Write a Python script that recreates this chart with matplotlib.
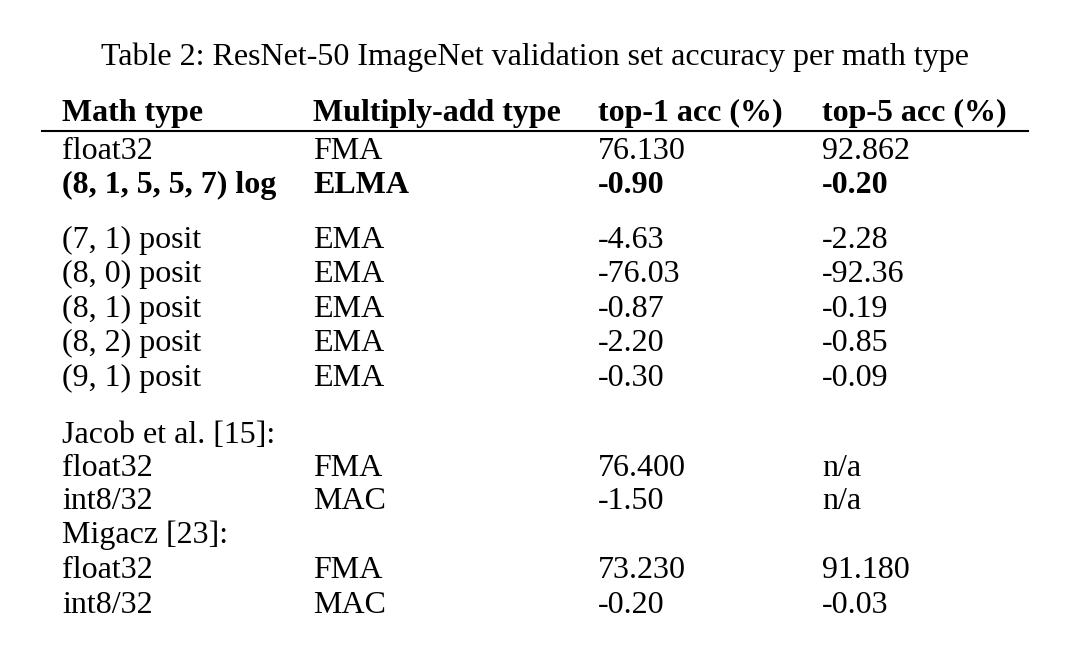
import matplotlib.pyplot as plt

# table contents
title = "Table 2: ResNet-50 ImageNet validation set accuracy per math type"
headers = ["Math type", "Multiply-add type", "top-1 acc (%)", "top-5 acc (%)"]
math_types = ["float32", "(8, 1, 5, 5, 7) log",
              "(7, 1) posit", "(8, 0) posit", "(8, 1) posit", "(8, 2) posit", "(9, 1) posit",
              "Jacob et al. [15]:", "float32", "int8/32",
              "Migacz [23]:", "float32", "int8/32"]
mac_types = ["FMA", "ELMA", "EMA", "EMA", "EMA", "EMA", "EMA",
             "", "FMA", "MAC", "", "FMA", "MAC"]
top1 = ["76.130", "-0.90", "-4.63", "-76.03", "-0.87", "-2.20", "-0.30",
        "", "76.400", "-1.50", "", "73.230", "-0.20"]
top5 = ["92.862", "-0.20", "-2.28", "-92.36", "-0.19", "-0.85", "-0.09",
        "", "n/a", "n/a", "", "91.180", "-0.03"]
bold_rows = [1]

# layout (pixels)
col_x = [62, 313, 598, 822]
row_y = [159, 193, 248, 282, 317, 351, 386, 443, 476, 509, 543, 578, 613]
fs = 23
font = "Liberation Serif"

fig = plt.figure(figsize=(10.8, 6.64), dpi=100)
ax = fig.add_axes([0, 0, 1, 1])
ax.set_xlim(0, 1080)
ax.set_ylim(664, 0)
ax.axis("off")

ax.text(535, 65, title, ha="center", va="baseline", fontsize=fs, family=font)
for x, h in zip(col_x, headers):
    ax.text(x, 121, h, ha="left", va="baseline", fontsize=fs, family=font, fontweight="bold")
ax.plot([42, 1028], [131, 131], color="black", lw=1.5)

for i, y in enumerate(row_y):
    w = "bold" if i in bold_rows else "normal"
    for x, val in zip(col_x, [math_types[i], mac_types[i], top1[i], top5[i]]):
        ax.text(x, y, val, ha="left", va="baseline", fontsize=fs, family=font, fontweight=w)

fig.savefig("out.png", dpi=100)
